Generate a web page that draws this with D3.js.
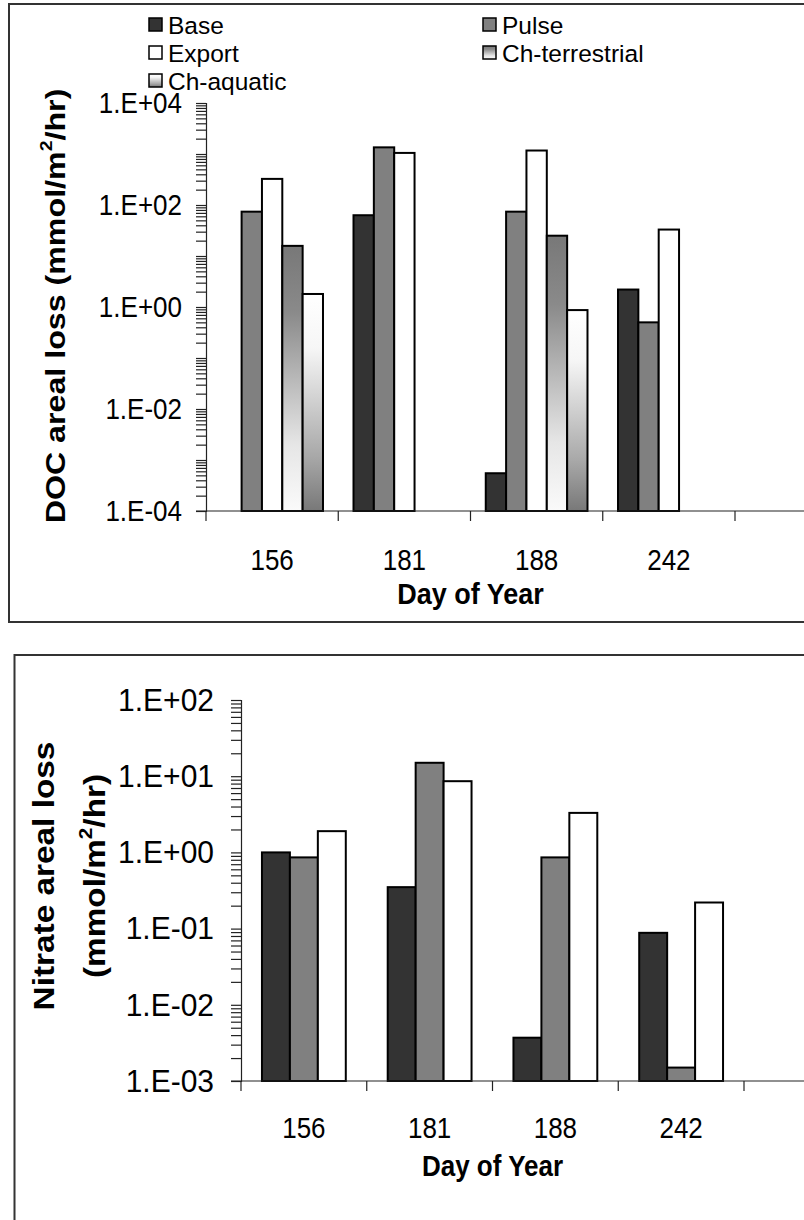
<!DOCTYPE html>
<html><head><meta charset="utf-8">
<script src="https://cdn.jsdelivr.net/npm/d3@7"></script>
<style>
body{margin:0;background:#fff}
svg{display:block}
text{font-family:"Liberation Sans",Arial,sans-serif;fill:#000}
</style>
</head><body>
<svg id="chart" width="804" height="1220"></svg>
<script>
// ---------- data ----------
const days = ["156", "181", "188", "242"];

const docSeriesNames = ["Base", "Pulse", "Export", "Ch-terrestrial", "Ch-aquatic"];
const docBase    = [null, 63, 0.00055, 2.2];
const docPulse   = [74, 1350, 74, 0.5];
const docExport  = [325, 1050, 1170, 33];
const docChTerr  = [15.8, null, 25, null];
const docChAq    = [1.8, null, 0.87, null];

const nitSeriesNames = ["Base", "Pulse", "Export"];
const nitBase   = [1.0, 0.35, 0.0037, 0.088];
const nitPulse  = [0.86, 15, 0.86, 0.0015];
const nitExport = [1.9, 8.6, 3.3, 0.22];

const docTickValues = [1e4, 1e2, 1e0, 1e-2, 1e-4];
const docTickLabels = ["1.E+04", "1.E+02", "1.E+00", "1.E-02", "1.E-04"];
const nitTickValues = [1e2, 1e1, 1e0, 1e-1, 1e-2, 1e-3];
const nitTickLabels = ["1.E+02", "1.E+01", "1.E+00", "1.E-01", "1.E-02", "1.E-03"];

// ---------- style ----------
const fills = {"Base": "#333333", "Pulse": "#808080", "Export": "#ffffff",
               "Ch-terrestrial": "url(#gTerr)", "Ch-aquatic": "url(#gAq)"};

const svg = d3.select("#chart");
const defs = svg.append("defs");
function grad(id, stops) {
  const g = defs.append("linearGradient").attr("id", id)
    .attr("x1", 0).attr("y1", 0).attr("x2", 0).attr("y2", 1);
  stops.forEach(s => g.append("stop").attr("offset", s[0]).attr("stop-color", s[1]));
}
grad("gTerr", [[0, "#787878"], [0.25, "#8a8a8a"], [0.75, "#e6e6e6"], [1, "#fafafa"]]);
grad("gAq", [[0, "#ffffff"], [0.25, "#f6f6f6"], [0.75, "#a8a8a8"], [1, "#787878"]]);

// text helper; the original picture's lettering is slightly stretched vertically
function txt(g, x, y, s, opt = {}) {
  const sy = opt.sy || 1;
  const t = g.append("text")
    .attr("transform", `translate(${x},${y}) scale(1,${sy})` + (opt.rot ? " rotate(-90)" : ""))
    .attr("text-anchor", opt.anchor || "middle")
    .attr("dominant-baseline", "central")
    .style("font-size", (opt.size || 25) + "px")
    .style("font-weight", opt.bold ? "bold" : "normal");
  if (s) t.text(s);
  return t;
}

function drawPanel(cfg) {
  const g = svg.append("g");
  g.append("rect").attr("x", cfg.box[0]).attr("y", cfg.box[1])
    .attr("width", cfg.box[2]).attr("height", cfg.box[3])
    .attr("fill", "none").attr("stroke", "#333").attr("stroke-width", 2);

  const y = d3.scaleLog().domain(cfg.yDomain).range([cfg.bottom, cfg.top]);
  const x0 = d3.scaleBand().domain(days).range([cfg.left, cfg.right]).padding(0);
  const bw = x0.bandwidth();
  const n = cfg.series.length;
  const barW = bw / (n + 1.5);
  const x1 = d3.scaleBand().domain(cfg.series.map(s => s.name))
    .range([(bw - n * barW) / 2, (bw + n * barW) / 2]).padding(0);

  days.forEach((d, i) => {
    cfg.series.forEach(s => {
      const v = s.values[i];
      if (v == null) return;
      g.append("rect")
        .attr("x", x0(d) + x1(s.name))
        .attr("y", y(v))
        .attr("width", x1.bandwidth())
        .attr("height", cfg.bottom - y(v))
        .attr("fill", fills[s.name])
        .attr("stroke", "#000").attr("stroke-width", 2);
    });
  });

  const [lo, hi] = cfg.yDomain;
  const e0 = Math.round(Math.log10(lo)), e1 = Math.round(Math.log10(hi));
  const minor = [];
  for (let e = e0; e < e1; e++) for (let k = 1; k <= 9; k++) minor.push(k * Math.pow(10, e));
  minor.push(hi);
  const yAxis = d3.axisLeft(y).tickValues(minor).tickSize(10).tickFormat("");
  const ya = g.append("g").attr("transform", `translate(${cfg.left},0)`).call(yAxis);
  ya.select(".domain").attr("stroke", "#222").attr("stroke-width", 1.2);
  ya.selectAll(".tick line").attr("stroke", "#222").attr("stroke-width", 1.2);

  cfg.tickValues.forEach((v, i) => {
    txt(g, cfg.left - cfg.labelGap, y(v), cfg.tickLabels[i],
        {anchor: "end", size: cfg.yFont, sy: cfg.ySy});
  });

  const xa = g.append("g").attr("transform", `translate(0,${cfg.bottom})`);
  xa.append("line").attr("x1", cfg.left - 10).attr("x2", cfg.lineEnd)
    .attr("y1", 0).attr("y2", 0).attr("stroke", "#222").attr("stroke-width", 1.2);
  const bounds = days.map(d => x0(d)).concat([cfg.right]);
  xa.selectAll("line.ct").data(bounds).enter().append("line").attr("class", "ct")
    .attr("x1", d => d).attr("x2", d => d).attr("y1", 0).attr("y2", 10)
    .attr("stroke", "#222").attr("stroke-width", 1.2);
  days.forEach(d => txt(g, x0(d) + bw / 2, cfg.bottom + cfg.xLabelDy, d,
                        {size: cfg.xFont, sy: 1.1}));
  txt(g, (cfg.left + cfg.right) / 2, cfg.bottom + cfg.xTitleDy, "Day of Year",
      {bold: true, size: cfg.xTitleFont, sy: 1.1});

  return g;
}

// ---------- top panel (DOC) ----------
const docPanel = drawPanel({
  box: [9, 4, 820, 618],
  yDomain: [1e-4, 1e4], top: 103, bottom: 511, left: 206, right: 735, lineEnd: 806,
  series: [
    {name: "Base", values: docBase},
    {name: "Pulse", values: docPulse},
    {name: "Export", values: docExport},
    {name: "Ch-terrestrial", values: docChTerr},
    {name: "Ch-aquatic", values: docChAq}
  ],
  tickValues: docTickValues, tickLabels: docTickLabels, labelGap: 24,
  yFont: 26, ySy: 1.1, xFont: 26, xTitleFont: 27,
  xLabelDy: 49, xTitleDy: 83
});
{
  const t = txt(docPanel, 55, 306, "", {rot: true, bold: true, size: 28, sy: 1.15});
  t.append("tspan").text("DOC areal loss (mmol/m");
  t.append("tspan").text("2").attr("dy", -10).style("font-size", "17px");
  t.append("tspan").text("/hr)").attr("dy", 10);
}
{
  const items = [
    {name: "Base", x: 149, y: 25}, {name: "Pulse", x: 483, y: 25},
    {name: "Export", x: 149, y: 53}, {name: "Ch-terrestrial", x: 483, y: 53},
    {name: "Ch-aquatic", x: 149, y: 81}
  ];
  const lg = svg.append("g");
  items.forEach(it => {
    lg.append("rect").attr("x", it.x).attr("y", it.y - 7).attr("width", 13).attr("height", 13)
      .attr("fill", fills[it.name]).attr("stroke", "#000").attr("stroke-width", 1.5);
    txt(lg, it.x + 19, it.y, it.name, {anchor: "start", size: 24.5});
  });
}

// ---------- bottom panel (Nitrate) ----------
const nitPanel = drawPanel({
  box: [14.5, 655, 820, 600],
  yDomain: [1e-3, 1e2], top: 700, bottom: 1081, left: 241, right: 744, lineEnd: 806,
  series: [
    {name: "Base", values: nitBase},
    {name: "Pulse", values: nitPulse},
    {name: "Export", values: nitExport}
  ],
  tickValues: nitTickValues, tickLabels: nitTickLabels, labelGap: 27,
  yFont: 30, ySy: 1.05, xFont: 26, xTitleFont: 26,
  xLabelDy: 47, xTitleDy: 85
});
{
  txt(nitPanel, 44, 876, "Nitrate areal loss", {rot: true, bold: true, size: 29, sy: 1.15});
  const t = txt(nitPanel, 95, 876, "", {rot: true, bold: true, size: 29, sy: 1.15});
  t.append("tspan").text("(mmol/m");
  t.append("tspan").text("2").attr("dy", -10).style("font-size", "18px");
  t.append("tspan").text("/hr)").attr("dy", 10);
}
</script>
</body></html>
